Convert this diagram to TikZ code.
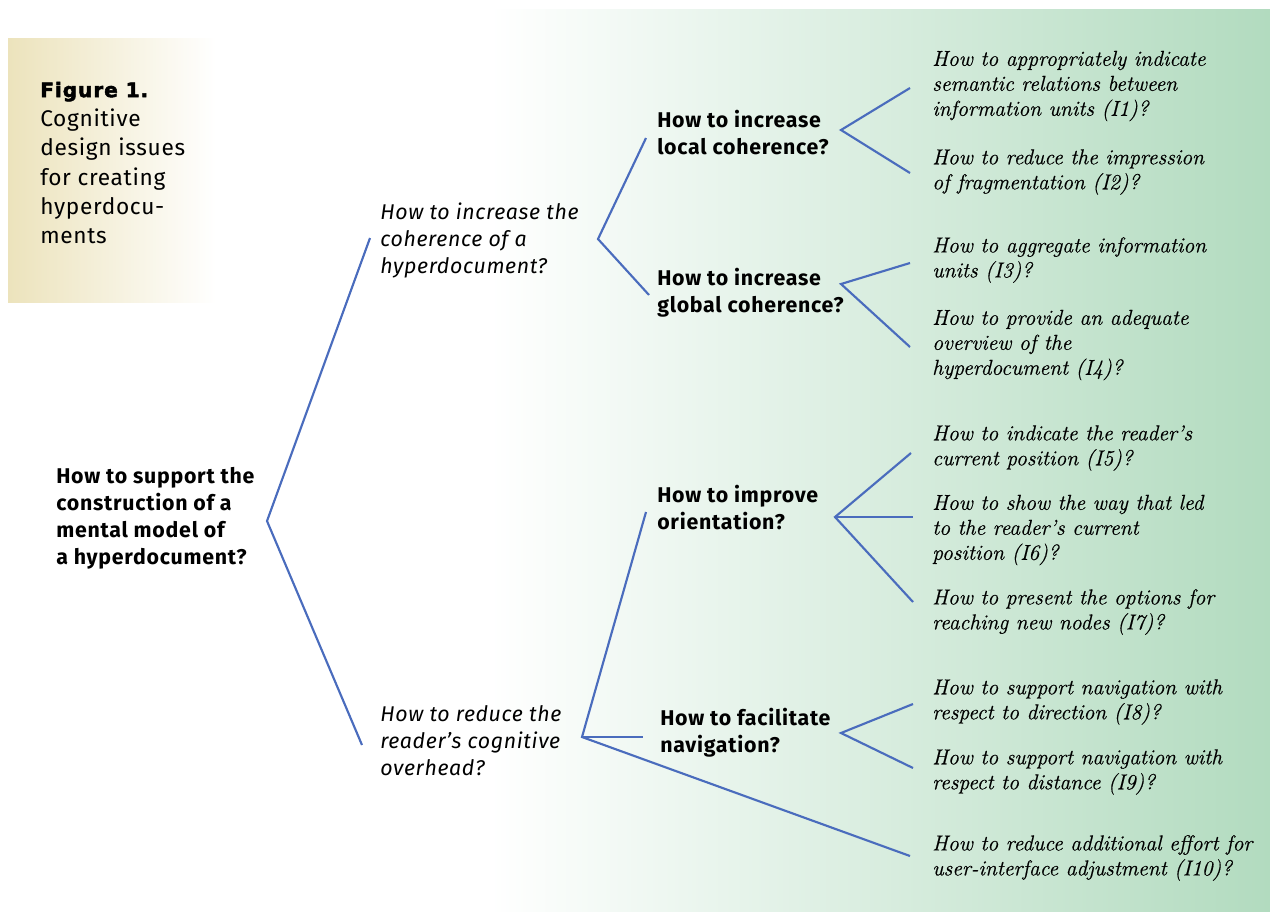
\documentclass[tikz,border=0pt]{standalone}
\usepackage{fontspec}
\setsansfont{Fira Sans}
\newfontfamily\boldsans{Fira Sans}[LetterSpace=3.5]
\newfontfamily\itsans{Fira Sans}[LetterSpace=3]
\newfontfamily\captsans{Fira Sans}[LetterSpace=3]
\newfontfamily\heavyfont{DejaVu Sans}[FakeBold=2.5,LetterSpace=5]
\newfontfamily\leaffont{Latin Modern Roman}[FakeBold=0.5]
\definecolor{linkblue}{HTML}{4A6CBD}
\definecolor{greenend}{HTML}{B2DBBF}
\definecolor{tanstart}{HTML}{ECE3BC}
\begin{document}
\begin{tikzpicture}[x=0.75pt,y=-0.75pt,
  conn/.style={draw=linkblue,line width=1.6pt,line join=miter},
  boldq/.style={anchor=west,inner sep=0pt,align=left,font=\boldsans\bfseries\fontsize{16}{20.25}\selectfont},
  itq/.style={anchor=west,inner sep=0pt,align=left,font=\itsans\itshape\fontsize{16}{20.25}\selectfont},
  leafq/.style={anchor=west,inner sep=0pt,align=left,font=\leaffont\itshape\fontsize{16.2}{18.75}\selectfont},
  capt/.style={anchor=west,inner sep=0pt,align=left,font=\captsans\fontsize{17}{22}\selectfont}]
\useasboundingbox (0,0) rectangle (1270,911);
% backgrounds
\shade[left color=white,right color=greenend] (490,9) rectangle (1270,911);
\shade[left color=tanstart,right color=white] (8,38) rectangle (216,302);
% caption
\node[capt] (cap) at (40,163) {{\heavyfont\bfseries\fontsize{15}{22}\selectfont Figure 1.}\\Cognitive\\design issues\\for creating\\hyperdocu-\\ments};
% nodes
\node[boldq] (root) at (56,518) {How to support the\\construction of a\\mental model of\\a hyperdocument?};
\node[itq] (coh) at (380,240) {How to increase the\\coherence of a\\hyperdocument?};
\node[itq] (red) at (380,741) {How to reduce the\\reader’s cognitive\\overhead?};
\node[boldq] (loc) at (657,133) {How to increase\\local coherence?};
\node[boldq] (glo) at (657,293) {How to increase\\global coherence?};
\node[boldq] (ori) at (657,508) {How to improve\\orientation?};
\node[boldq] (nav) at (660,733) {How to facilitate\\navigation?};
\node[leafq] (i1) at (932,86) {How to appropriately indicate\\semantic relations between\\information units (I1)?};
\node[leafq] (i2) at (932,172) {How to reduce the impression\\of fragmentation (I2)?};
\node[leafq] (i3) at (932,260) {How to aggregate information\\units (I3)?};
\node[leafq] (i4) at (932,345) {How to provide an adequate\\overview of the\\hyperdocument (I4)?};
\node[leafq] (i5) at (932,448) {How to indicate the reader’s\\current position (I5)?};
\node[leafq] (i6) at (932,530) {How to show the way that led\\to the reader’s current\\position (I6)?};
\node[leafq] (i7) at (932,612) {How to present the options for\\reaching new nodes (I7)?};
\node[leafq] (i8) at (932,702) {How to support navigation with\\respect to direction (I8)?};
\node[leafq] (i9) at (932,772) {How to support navigation with\\respect to distance (I9)?};
\node[leafq] (i10) at (932,858) {How to reduce additional effort for\\user-interface adjustment (I10)?};
% branch points and connector ends
\coordinate (v0) at (267,521);
\coordinate (e0a) at (370,238);
\coordinate (e0b) at (362,745);
\coordinate (v1) at (598,239);
\coordinate (e1a) at (646,138);
\coordinate (e1b) at (649,295);
\coordinate (v2) at (582,737);
\coordinate (e2a) at (646,512);
\coordinate (e2b) at (643,737);
\coordinate (e2c) at (910,856);
\coordinate (vl) at (841,130);
\coordinate (el1) at (910,88);
\coordinate (el2) at (910,173);
\coordinate (vg) at (841,284);
\coordinate (eg3) at (910,263);
\coordinate (eg4) at (910,347);
\coordinate (vo) at (835,517);
\coordinate (eo5) at (911,453);
\coordinate (eo6) at (913,517);
\coordinate (eo7) at (913,602);
\coordinate (vn) at (841,733);
\coordinate (en8) at (913,704);
\coordinate (en9) at (913,768);
% connectors
\draw[conn] (e0a) -- (v0) -- (e0b);
\draw[conn] (e1a) -- (v1) -- (e1b);
\draw[conn] (e2a) -- (v2) -- (e2c);
\draw[conn] (v2) -- (e2b);
\draw[conn] (el1) -- (vl) -- (el2);
\draw[conn] (eg3) -- (vg) -- (eg4);
\draw[conn] (eo5) -- (vo) -- (eo7);
\draw[conn] (vo) -- (eo6);
\draw[conn] (en8) -- (vn) -- (en9);
\end{tikzpicture}
\end{document}
